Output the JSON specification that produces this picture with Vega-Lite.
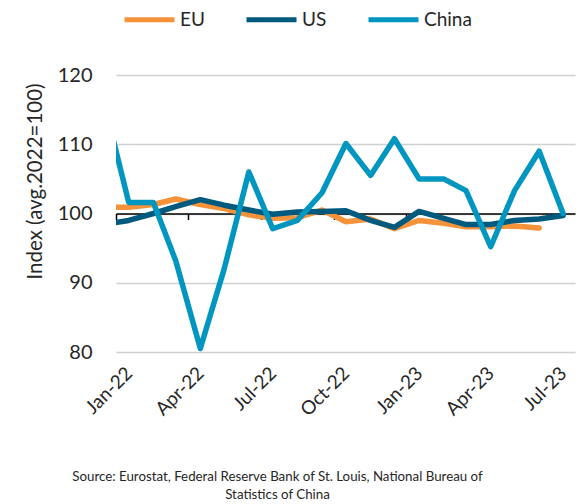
{
  "$schema": "https://vega.github.io/schema/vega-lite/v6.json",
  "width": 459,
  "height": 277,
  "autosize": "none",
  "padding": {"left": 116, "top": 75, "right": 3, "bottom": 152},
  "background": "white",
  "config": {"font": "Lato", "view": {"stroke": null}},
  "title": {
    "text": ["Source: Eurostat, Federal Reserve Bank of St. Louis, National Bureau of", "Statistics of China"],
    "orient": "bottom",
    "anchor": "middle",
    "font": "Lato",
    "fontSize": 13.3,
    "fontWeight": "normal",
    "color": "#262626",
    "dx": -68,
    "offset": 50,
    "lineHeight": 18
  },
  "data": {
    "values": [
      {"date": "2021-12-01", "series": "EU", "value": 100.9},
      {"date": "2022-01-01", "series": "EU", "value": 100.9},
      {"date": "2022-02-01", "series": "EU", "value": 101.3},
      {"date": "2022-03-01", "series": "EU", "value": 102.1},
      {"date": "2022-04-01", "series": "EU", "value": 101.3},
      {"date": "2022-05-01", "series": "EU", "value": 100.7},
      {"date": "2022-06-01", "series": "EU", "value": 99.8},
      {"date": "2022-07-01", "series": "EU", "value": 99.3},
      {"date": "2022-08-01", "series": "EU", "value": 99.4},
      {"date": "2022-09-01", "series": "EU", "value": 100.5},
      {"date": "2022-10-01", "series": "EU", "value": 98.8},
      {"date": "2022-11-01", "series": "EU", "value": 99.2},
      {"date": "2022-12-01", "series": "EU", "value": 97.8},
      {"date": "2023-01-01", "series": "EU", "value": 99.0},
      {"date": "2023-02-01", "series": "EU", "value": 98.6},
      {"date": "2023-03-01", "series": "EU", "value": 98.1},
      {"date": "2023-04-01", "series": "EU", "value": 98.1},
      {"date": "2023-05-01", "series": "EU", "value": 98.2},
      {"date": "2023-06-01", "series": "EU", "value": 97.9},
      {"date": "2021-12-01", "series": "US", "value": 98.4},
      {"date": "2022-01-01", "series": "US", "value": 99.0},
      {"date": "2022-02-01", "series": "US", "value": 100.0},
      {"date": "2022-03-01", "series": "US", "value": 101.0},
      {"date": "2022-04-01", "series": "US", "value": 102.0},
      {"date": "2022-05-01", "series": "US", "value": 101.2},
      {"date": "2022-06-01", "series": "US", "value": 100.5},
      {"date": "2022-07-01", "series": "US", "value": 99.9},
      {"date": "2022-08-01", "series": "US", "value": 100.2},
      {"date": "2022-09-01", "series": "US", "value": 100.3},
      {"date": "2022-10-01", "series": "US", "value": 100.4},
      {"date": "2022-11-01", "series": "US", "value": 99.0},
      {"date": "2022-12-01", "series": "US", "value": 98.0},
      {"date": "2023-01-01", "series": "US", "value": 100.3},
      {"date": "2023-02-01", "series": "US", "value": 99.3},
      {"date": "2023-03-01", "series": "US", "value": 98.4},
      {"date": "2023-04-01", "series": "US", "value": 98.4},
      {"date": "2023-05-01", "series": "US", "value": 99.0},
      {"date": "2023-06-01", "series": "US", "value": 99.2},
      {"date": "2023-07-01", "series": "US", "value": 99.7},
      {"date": "2021-12-01", "series": "China", "value": 116.0},
      {"date": "2022-01-01", "series": "China", "value": 101.6},
      {"date": "2022-02-01", "series": "China", "value": 101.6},
      {"date": "2022-03-01", "series": "China", "value": 93.2},
      {"date": "2022-04-01", "series": "China", "value": 80.5},
      {"date": "2022-05-01", "series": "China", "value": 92.0},
      {"date": "2022-06-01", "series": "China", "value": 106.0},
      {"date": "2022-07-01", "series": "China", "value": 97.8},
      {"date": "2022-08-01", "series": "China", "value": 99.0},
      {"date": "2022-09-01", "series": "China", "value": 103.0},
      {"date": "2022-10-01", "series": "China", "value": 110.1},
      {"date": "2022-11-01", "series": "China", "value": 105.5},
      {"date": "2022-12-01", "series": "China", "value": 110.8},
      {"date": "2023-01-01", "series": "China", "value": 105.0},
      {"date": "2023-02-01", "series": "China", "value": 105.0},
      {"date": "2023-03-01", "series": "China", "value": 103.3},
      {"date": "2023-04-01", "series": "China", "value": 95.2},
      {"date": "2023-05-01", "series": "China", "value": 103.3},
      {"date": "2023-06-01", "series": "China", "value": 109.0},
      {"date": "2023-07-01", "series": "China", "value": 100.0}
    ]
  },
  "resolve": {"axis": {"x": "independent"}},
  "layer": [
    {
      "mark": {"type": "line", "strokeOpacity": 0, "clip": true},
      "encoding": {
        "x": {
          "field": "date",
          "type": "temporal",
          "scale": {
            "type": "utc",
            "domain": [
              {"year": 2021, "month": 12, "date": 16, "utc": true},
              {"year": 2023, "month": 7, "date": 16, "utc": true}
            ]
          },
          "axis": {
            "orient": "top",
            "offset": -138.5,
            "values": [
              {"year": 2021, "month": 12, "date": 16, "utc": true},
              {"year": 2022, "month": 3, "date": 16, "utc": true},
              {"year": 2022, "month": 6, "date": 16, "utc": true},
              {"year": 2022, "month": 9, "date": 16, "utc": true},
              {"year": 2022, "month": 12, "date": 16, "utc": true},
              {"year": 2023, "month": 3, "date": 16, "utc": true},
              {"year": 2023, "month": 6, "date": 16, "utc": true}
            ],
            "labels": false,
            "domain": true,
            "domainColor": "black",
            "domainWidth": 1.5,
            "ticks": true,
            "tickColor": "black",
            "tickWidth": 1.5,
            "tickSize": -6,
            "grid": false,
            "title": null
          }
        },
        "y": {"field": "value", "type": "quantitative", "scale": {"domain": [80, 120]}}
      }
    },
    {
      "mark": {"type": "line", "strokeWidth": 5.5, "clip": true, "strokeJoin": "round", "strokeCap": "round"},
      "encoding": {
        "x": {
          "field": "date",
          "type": "temporal",
          "axis": {
            "orient": "bottom",
            "values": [
              {"year": 2022, "month": 1, "date": 1, "utc": true},
              {"year": 2022, "month": 4, "date": 1, "utc": true},
              {"year": 2022, "month": 7, "date": 1, "utc": true},
              {"year": 2022, "month": 10, "date": 1, "utc": true},
              {"year": 2023, "month": 1, "date": 1, "utc": true},
              {"year": 2023, "month": 4, "date": 1, "utc": true},
              {"year": 2023, "month": 7, "date": 1, "utc": true}
            ],
            "labelExpr": "utcFormat(datum.value, '%b-%y')",
            "labelAngle": -45,
            "labelAlign": "right",
            "labelBaseline": "middle",
            "labelFontSize": 19,
            "labelColor": "#262626",
            "labelPadding": 18,
            "domain": false,
            "ticks": false,
            "grid": false,
            "title": null
          }
        },
        "y": {
          "field": "value",
          "type": "quantitative",
          "scale": {"domain": [80, 120]},
          "axis": {
            "values": [80, 90, 100, 110, 120],
            "grid": true,
            "gridColor": "#d0d0d0",
            "gridWidth": 1.5,
            "domain": false,
            "ticks": false,
            "labelFontSize": 20,
            "labelPadding": 24,
            "labelColor": "#262626",
            "title": "Index (avg.2022=100)",
            "titleFontSize": 20.5,
            "titleFontWeight": "normal",
            "titleColor": "#262626",
            "titleX": -81,
            "titleY": 106,
            "titleAngle": -90,
            "titleAlign": "center",
            "titleBaseline": "middle"
          }
        },
        "color": {
          "field": "series",
          "type": "nominal",
          "sort": ["EU", "US", "China"],
          "scale": {"domain": ["EU", "US", "China"], "range": ["#f5923a", "#005a7d", "#0096c0"]},
          "legend": {
            "orient": "none",
            "legendX": 6,
            "legendY": -83,
            "direction": "horizontal",
            "title": null,
            "padding": 0,
            "symbolType": "stroke",
            "symbolSize": 2500,
            "symbolStrokeWidth": 5,
            "labelFontSize": 19,
            "labelColor": "#262626",
            "labelOffset": 3,
            "columnPadding": 31
          }
        }
      }
    }
  ]
}
